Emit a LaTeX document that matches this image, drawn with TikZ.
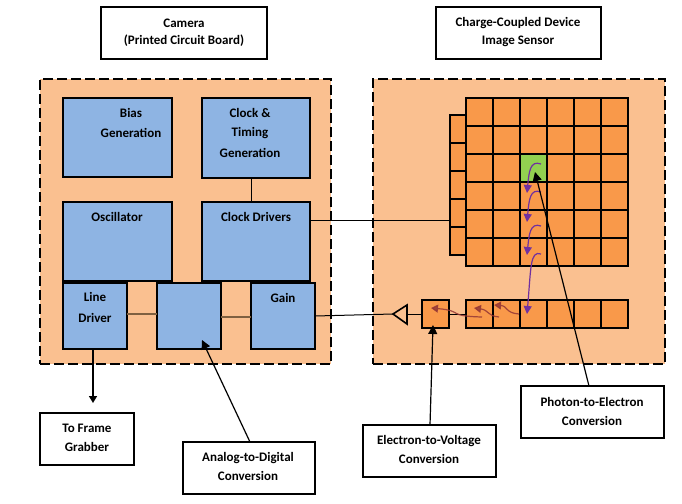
\documentclass[tikz,border=0pt]{standalone}
\usepackage{fontspec}
\setmainfont{Carlito}
\usetikzlibrary{arrows.meta}
\definecolor{panel}{HTML}{FAC090}
\definecolor{cellc}{HTML}{F9994A}
\definecolor{bluec}{HTML}{8EB4E3}
\definecolor{greenc}{HTML}{92D050}
\definecolor{purp}{HTML}{7030A0}
\definecolor{brn}{HTML}{953735}
\definecolor{wirebr}{HTML}{7F6040}
\newcommand{\Bx}[6]{%
  \pgfmathsetmacro\bw{#4-#2}\pgfmathsetmacro\bh{#5-#3}%
  \pgfmathsetmacro\bcx{(#2+#4)/2}\pgfmathsetmacro\bcy{(#3+#5)/2}%
  \node[#6,minimum width=\bw pt,minimum height=\bh pt] (#1) at (\bcx,\bcy) {};}
\tikzset{
  x=1pt,y=-1pt,
  base/.style={rectangle,inner sep=0pt,outer sep=0pt,draw=black,line width=1.6pt},
  panelbox/.style={base,fill=panel,line width=2pt,dash pattern=on 10pt off 4pt},
  block/.style={base,fill=bluec},
  cell/.style={base,fill=cellc},
  whitebox/.style={base,fill=white},
  txt/.style={font=\fontsize{13}{13}\selectfont\bfseries,text=black,inner sep=0pt},
  wire/.style={line width=1pt,draw=black},
  brwire/.style={line width=1.2pt,draw=wirebr},
  point/.style={line width=1.2pt,draw=black,-{Triangle[length=9pt,width=9pt]}},
  purparrow/.style={line width=1.2pt,draw=purp,-{Triangle[length=8pt,width=8pt]}},
  brnarrow/.style={line width=1.2pt,draw=brn,opacity=.85,-{Triangle[length=7pt,width=8pt]}},
}
\begin{document}
\begin{tikzpicture}
\useasboundingbox (0,0) rectangle (682,503);
% panels
\Bx{leftpanel}{40}{79}{331}{364}{panelbox}
\Bx{rightpanel}{373}{79}{665}{364}{panelbox}
% title boxes
\Bx{camtitle}{101}{7}{267}{59}{whitebox}
\Bx{sentitle}{436}{7}{601}{59}{whitebox}
\node[txt] (t1a) at (184,23) {Camera};
\node[txt] (t1b) at (184,41) {(Printed Circuit Board)};
\node[txt] (t2a) at (518,23) {Charge-Coupled Device};
\node[txt] (t2b) at (518,41) {Image Sensor};
% blocks
\Bx{bias}{63}{98}{172}{177}{block}
\Bx{clock}{202}{98}{310}{178}{block}
\Bx{osc}{63}{202}{172}{281}{block}
\Bx{drivers}{202}{202}{310}{281}{block}
\Bx{line}{63}{283}{127}{349}{block}
\Bx{adc}{157}{283}{221}{349}{block}
\Bx{gain}{251}{283}{315}{349}{block}
\node[txt] (b1) at (131,113) {Bias};
\node[txt] (b2) at (131,133) {Generation};
\node[txt] (c1) at (250,113) {Clock \&};
\node[txt] (c2) at (250,133) {Timing};
\node[txt] (c3) at (250,153) {Generation};
\node[txt] (o1) at (117,217) {Oscillator};
\node[txt] (d1) at (256,217) {Clock Drivers};
\node[txt] (l1) at (95,297) {Line};
\node[txt] (l2) at (95,318) {Driver};
\node[txt] (g1) at (283,298) {Gain};
% sensor grid
\foreach \i in {0,...,5}{
  \foreach \j in {0,...,5}{
    \pgfmathsetmacro\xa{466+27*\i}\pgfmathsetmacro\xb{\xa+27}
    \pgfmathsetmacro\ya{98+28*\j}\pgfmathsetmacro\yb{\ya+28}
    \Bx{g\i\j}{\xa}{\ya}{\xb}{\yb}{cell}
  }
  \pgfmathsetmacro\xa{466+27*\i}\pgfmathsetmacro\xb{\xa+27}
  \Bx{r\i}{\xa}{300}{\xb}{328}{cell}
}
\foreach \j in {0,...,4}{
  \pgfmathsetmacro\ya{115+28*\j}\pgfmathsetmacro\yb{\ya+28}
  \Bx{s\j}{450}{\ya}{466}{\yb}{cell}
}
\Bx{green}{520}{154}{547}{182}{cell,fill=greenc}
\Bx{sense}{422}{300}{449}{328}{cell}
\node[base,fill=none,minimum width=0pt,minimum height=0pt] (ampdummy) at (407,314) {};
\draw[line width=1.6pt,fill=panel,line join=miter] (393,314) -- (407,305) -- (407,324) -- cycle;
% wires
\coordinate (amptip) at (393,314);
\coordinate (ampbase) at (407,314);
\draw[wire] (clock.south) ++(-5,0) -- (251,202);
\draw[wire] (drivers.east |- 0,220) -- (450,220);
\draw[wire] (gain.east) -- (amptip);
\draw[wire] (ampbase) -- (sense.west);
\draw[wire] (sense.east) -- (r0.west);
\draw[brwire] (127,314) -- (157,314);
\draw[brwire] (221,317) -- (251,317);
% outside boxes
\Bx{frame}{40}{413}{134}{465}{whitebox}
\node[txt] (f1) at (87,428) {To Frame};
\node[txt] (f2) at (87,447) {Grabber};
\Bx{adcl}{183}{442}{315}{494}{whitebox}
\node[txt] (a1) at (248,458) {Analog-to-Digital};
\node[txt] (a2) at (248,476) {Conversion};
\Bx{elec}{363}{425}{496}{477}{whitebox}
\node[txt] (e1) at (429,441) {Electron-to-Voltage};
\node[txt] (e2) at (429,459) {Conversion};
\Bx{phot}{521}{386}{664}{438}{whitebox}
\node[txt] (p1) at (592,402) {Photon-to-Electron};
\node[txt] (p2) at (592,421) {Conversion};
% curved charge transfers
\draw[purparrow] (541,164) .. controls (530,160) and (529,172) .. (527,193);
\draw[purparrow] (541,192) .. controls (530,188) and (529,200) .. (527,222);
\draw[purparrow] (541,226) .. controls (530,222) and (529,235) .. (527,255);
\draw[purparrow] (541,254) .. controls (530,250) and (531,268) .. (527,314);
\draw[brnarrow] (519,314) .. controls (505,313) and (508,306) .. (494,305);
\draw[brnarrow] (499,317) .. controls (487,316) and (489,310) .. (474,308);
\draw[brnarrow] (482,317) .. controls (445,316) and (465,311) .. (431,308);
% pointers
\draw[line width=1.6pt,draw=black,-{Triangle[length=7pt,width=8pt]}] (93,349) -- (93,403);
\draw[point] (250,442) -- (202,340);
\coordinate (elecfrom) at (430,425);
\coordinate (electo) at (433,325);
\draw[point] (elecfrom) -- (electo);
\coordinate (photfrom) at (589,386);
\coordinate (photto) at (535,172);
\draw[point] (photfrom) -- (photto);
\end{tikzpicture}
\end{document}
